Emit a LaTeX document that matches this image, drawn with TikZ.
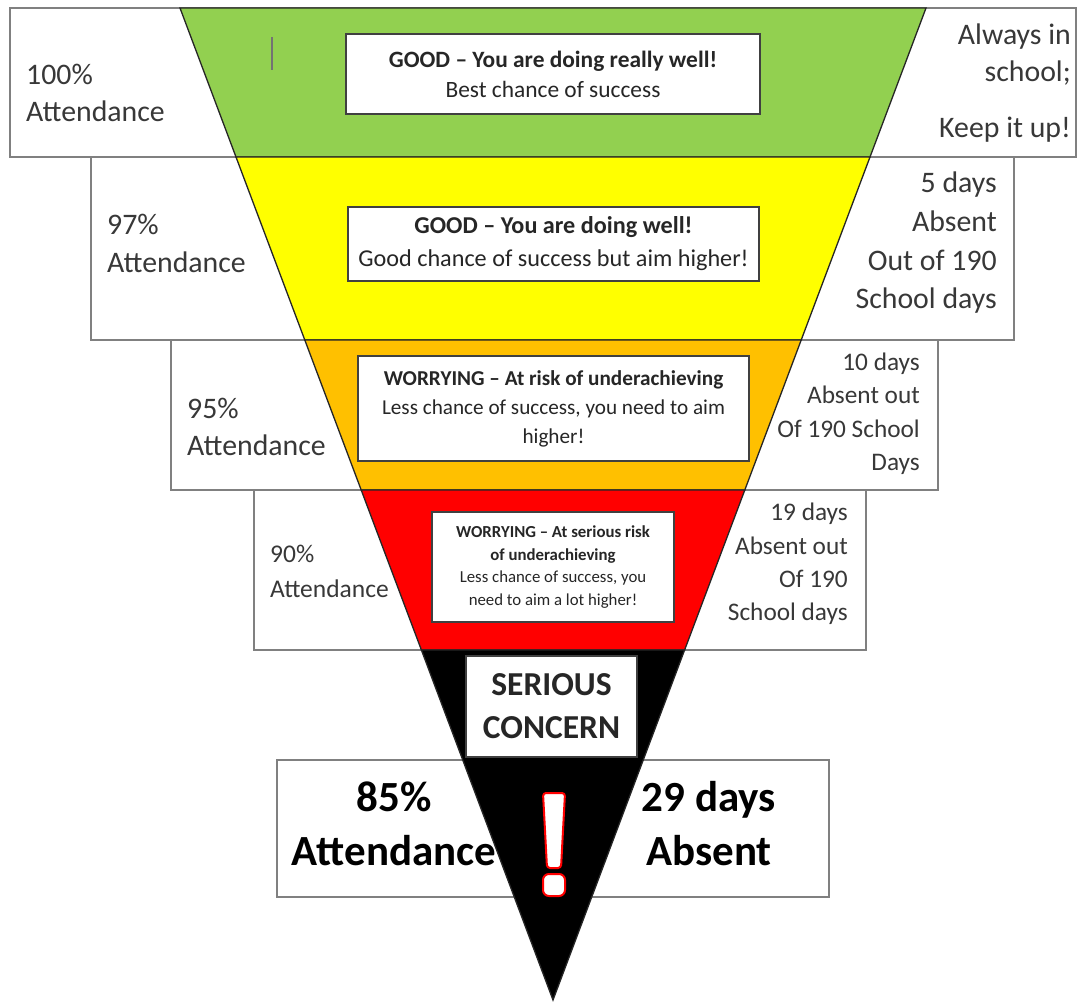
\documentclass[tikz,border=0pt]{standalone}
\usepackage{fontspec}
\setmainfont{Carlito}
\begin{document}
\begin{tikzpicture}[x=1pt,y=-1pt,
  sidebox/.style={draw=black!50, line width=1.3pt, fill=white},
  band/.style={draw=black!85, line width=1.3pt},
  sidetxt/.style={text=black!78, inner sep=0pt, font=\fontsize{29.8}{37}\selectfont},
  smalltxt/.style={text=black!78, inner sep=0pt, font=\fontsize{25.3}{33.5}\selectfont},
  innerbox/.style={draw=black!75, line width=1.3pt, fill=white, align=center, inner sep=0pt, text=black!85},
  bigtxt/.style={text=black, inner sep=0pt, align=center, font=\bfseries\fontsize{43}{54}\selectfont}]
\useasboundingbox (0,0) rectangle (1078,1003);
\fill[white] (0,0) rectangle (1078,1003);
% side boxes
\draw[sidebox] (10,8) rectangle (1076,157);
\draw[sidebox] (91,157) rectangle (1014,340);
\draw[sidebox] (171,340) rectangle (938,490);
\draw[sidebox] (254,490) rectangle (866,650);
\draw[sidebox] (277,760) rectangle (829,897);
% side labels
\node[sidetxt, anchor=west, align=left] (l100) at (26,93) {100\%\\Attendance};
\node[sidetxt, anchor=west, align=left, font=\fontsize{29.8}{38}\selectfont] (l97) at (107,243) {97\%\\Attendance};
\node[sidetxt, anchor=west, align=left] (l95) at (187,427) {95\%\\Attendance};
\node[smalltxt, anchor=west, align=left, font=\fontsize{25.5}{35}\selectfont] (l90) at (270,571) {90\%\\Attendance};
\node[sidetxt, anchor=east, align=right] (r100) at (1071,83) {Always in\\school;\\[19pt]Keep it up!};
\node[sidetxt, anchor=east, align=right, font=\fontsize{29.8}{38.7}\selectfont] (r97) at (997,243) {5 days\\Absent\\Out of 190\\School days};
\node[smalltxt, anchor=east, align=right] (r95) at (920,414) {10 days\\Absent out\\Of 190 School\\Days};
\node[smalltxt, anchor=east, align=right, font=\fontsize{25.3}{33.3}\selectfont] (r90) at (848,564) {19 days\\Absent out\\Of 190\\School days};
% bottom box texts
\node[bigtxt] (l85) at (394,824) {85\%\\Attendance};
\node[bigtxt] (r85) at (709,824) {29 days\\Absent};
% funnel bands
\coordinate (TL) at (180,8);
\coordinate (TR) at (926,8);
\coordinate (A) at (553,1000);
\filldraw[band, fill={rgb,255:red,146;green,208;blue,80}] (TL) -- (TR) -- (870,157) -- (236,157) -- cycle;
\filldraw[band, fill={rgb,255:red,255;green,255;blue,0}] (236,157) -- (870,157) -- (801.2,340) -- (304.8,340) -- cycle;
\filldraw[band, fill={rgb,255:red,255;green,192;blue,0}] (304.8,340) -- (801.2,340) -- (744.8,490) -- (361.2,490) -- cycle;
\filldraw[band, fill={rgb,255:red,255;green,0;blue,0}] (361.2,490) -- (744.8,490) -- (684.6,650) -- (421.4,650) -- cycle;
\filldraw[band, fill=black] (421.4,650) -- (684.6,650) -- (A) -- cycle;
% stray mark
\draw[black!55, line width=1.5pt] (272,37) -- (272,70);
% inner boxes
\node[innerbox, minimum width=414pt, minimum height=80pt, font=\fontsize{23.4}{30}\selectfont] (g) at (553,74)
  {\textbf{GOOD – You are doing really well!}\\Best chance of success};
\node[innerbox, minimum width=411pt, minimum height=74pt, font=\fontsize{24.2}{33}\selectfont] (y) at (553.5,244)
  {\textbf{GOOD – You are doing well!}\\Good chance of success but aim higher!};
\node[innerbox, minimum width=391pt, minimum height=105pt, font=\fontsize{21.2}{29}\selectfont] (o) at (553.5,408.5)
  {\textbf{WORRYING – At risk of underachieving}\\Less chance of success, you need to aim\\higher!};
\node[innerbox, minimum width=242pt, minimum height=110pt, font=\fontsize{16.8}{22.7}\selectfont] (r) at (553,567)
  {\textbf{WORRYING – At serious risk}\\\textbf{of underachieving}\\Less chance of success, you\\need to aim a lot higher!};
\node[innerbox, minimum width=171pt, minimum height=101pt, font=\bfseries\fontsize{33.5}{43}\selectfont] (s) at (551.5,706.5)
  {SERIOUS\\CONCERN};
% exclamation mark
\filldraw[fill=white, draw=red, line width=2pt, rounded corners=3pt] (543,793) -- (565,793) -- (561,868) -- (547,868) -- cycle;
\filldraw[fill=white, draw=red, line width=2pt, rounded corners=6pt] (543,874) rectangle (565,896);
\end{tikzpicture}
\end{document}
